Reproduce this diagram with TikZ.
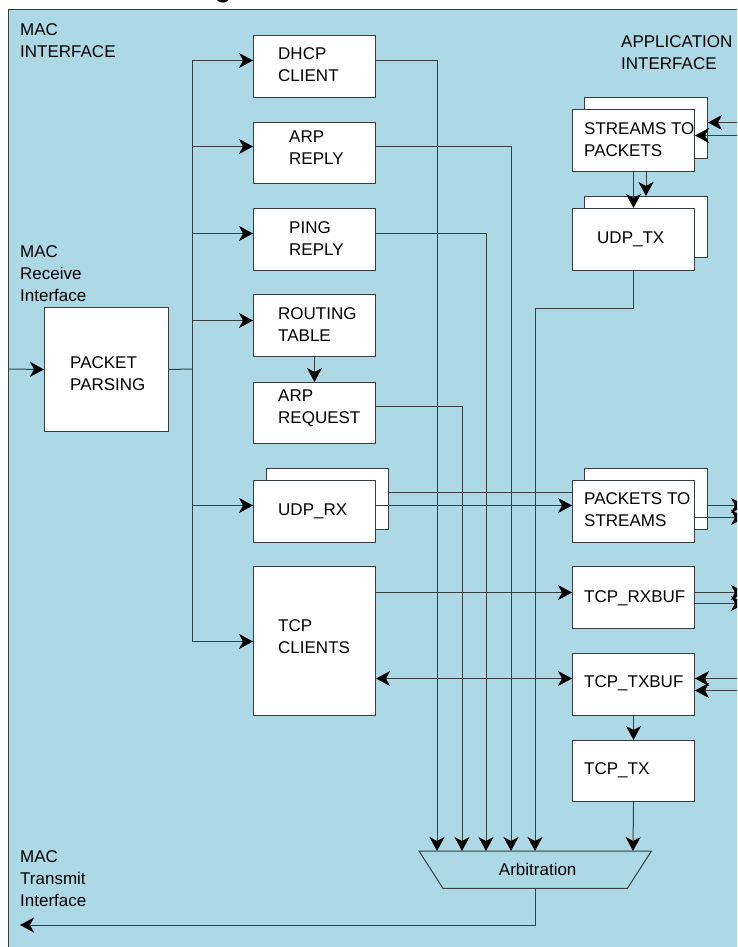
\documentclass[tikz,border=0pt]{standalone}
\usepackage{fontspec}
\setmainfont{Liberation Sans}
\usetikzlibrary{arrows.meta,calc}
\definecolor{bgblue}{RGB}{173,216,230}
\definecolor{lncol}{RGB}{55,63,68}
\begin{document}
\begin{tikzpicture}[x=1pt,y=-1pt,
  font=\fontsize{17}{22}\selectfont,
  blk/.style={draw=lncol, line width=1pt, fill=white, inner sep=0pt, anchor=north west, minimum width=122pt, minimum height=62pt},
  lbl/.style={inner sep=0pt, align=left, anchor=west},
  txt/.style={inner sep=0pt, align=left, anchor=north west},
  wire/.style={draw=lncol, line width=1pt},
  arr/.style={wire, -{Stealth[length=14pt, width=15pt, inset=4pt, color=black]}},
  darr/.style={wire, {Stealth[length=14pt, width=15pt, inset=4pt, color=black]}-{Stealth[length=14pt, width=15pt, inset=4pt, color=black]}}]
\useasboundingbox (0,0) rectangle (737,947);
\clip (0,0) rectangle (737,947);
% cropped title fragment
\node[font=\bfseries\fontsize{26}{26}\selectfont, inner sep=0pt, anchor=base] (title) at (223,-2) {g};
% background panel
\draw[draw=lncol, line width=1pt, fill=bgblue] (8,10) rectangle (770,980);
% boxes
\node[blk] (dhcp) at (253,35) {};
\node[blk, minimum height=61pt] (arpr) at (253,122) {};
\node[blk] (ping) at (253,208) {};
\node[blk] (rt) at (253,294) {};
\node[blk, minimum height=61pt] (arpq) at (253,382) {};
\node[blk, minimum height=61pt] (udprxb) at (266,468) {};
\node[blk] (udprx) at (253,480) {};
\node[blk, minimum height=149pt] (tcpc) at (253,566) {};
\node[blk, minimum width=124pt, minimum height=124pt] (pp) at (44,307) {};
\node[blk, minimum width=123pt, minimum height=61pt] (s2pb) at (584,97) {};
\node[blk] (s2p) at (572,109) {};
\node[blk, minimum width=123pt, minimum height=61pt] (udptxb) at (584,196) {};
\node[blk] (udptx) at (572,208) {};
\node[blk, minimum width=123pt, minimum height=61pt] (p2sb) at (584,468) {};
\node[blk] (p2s) at (572,480) {};
\node[blk] (rxbuf) at (572,566) {};
\node[blk] (txbuf) at (572,653) {};
\node[blk, minimum height=61pt] (tcptx) at (572,740) {};
% arbitration
\node[inner sep=0pt, minimum width=232pt, minimum height=37pt, anchor=north west] (arb) at (419,851) {\hspace*{5pt}Arbitration};
\draw[wire] (arb.north west) -- (arb.north east) -- ($(arb.south east)+(-24,0)$) -- ($(arb.south west)+(24,0)$) -- cycle;
% box texts
\node[lbl] (tdhcp) at (278,65) {DHCP\\CLIENT};
\node[lbl] (tarpr) at (289,147.5) {ARP\\REPLY};
\node[lbl] (tping) at (289,238.5) {PING\\REPLY};
\node[lbl] (trt) at (278,324.5) {ROUTING\\TABLE};
\node[lbl] (tarpq) at (278,408) {ARP\\REQUEST};
\node[lbl] (tudprx) at (278,511) {UDP\_RX};
\node[lbl] (ttcpc) at (278,637) {TCP\\CLIENTS};
\node[lbl] (tpp) at (70,374) {PACKET\\PARSING};
\node[lbl] (ts2p) at (584,140) {STREAMS TO\\PACKETS};
\node[lbl] (tudptx) at (597,239) {UDP\_TX};
\node[lbl] (tp2s) at (584,510) {PACKETS TO\\STREAMS};
\node[lbl] (trxbuf) at (584,598) {TCP\_RXBUF};
\node[lbl] (ttxbuf) at (584,683) {TCP\_TXBUF};
\node[lbl] (ttcptx) at (584,770) {TCP\_TX};
% side labels
\node[txt] (lmacif) at (20,23) {MAC\\INTERFACE};
\node[txt] (lapp) at (621,35) {APPLICATION\\INTERFACE};
\node[txt] (lrx) at (20,245) {MAC\\Receive\\Interface};
\node[txt] (ltx) at (20,850) {MAC\\Transmit\\Interface};
% receive path
\coordinate (macin) at (8,369);
\draw[arr] (macin) -- (pp.west);
\coordinate (bus) at (192,369);
\draw[wire] (pp.east) -- (bus);
\foreach \n/\dy in {dhcp/-6, arpr/-6.5, ping/-6, rt/-5, udprx/-6, tcpc/0.5} {
  \coordinate (\n-in) at ($(\n.west)+(0,\dy)$);
  \draw[arr] (bus |- \n-in) -- (\n-in);
}
\draw[wire] (bus |- dhcp-in) -- (bus |- tcpc-in);
\draw[arr] (rt.south) -- (arpq.north);
% arbitration inputs
\coordinate (a1) at ($(arb.north west)+(18,0)$);
\coordinate (a2) at ($(arb.north west)+(43,0)$);
\coordinate (a3) at ($(arb.north west)+(67,0)$);
\coordinate (a4) at ($(arb.north west)+(92,0)$);
\coordinate (a5) at ($(arb.north west)+(116,0)$);
\coordinate (a6) at ($(arb.north west)+(214,0)$);
\draw[arr] ($(dhcp.east)+(0,-6)$) -| (a1);
\draw[arr] ($(arpq.east)+(0,-6.5)$) -| (a2);
\draw[arr] ($(ping.east)+(0,-6)$) -| (a3);
\draw[arr] ($(arpr.east)+(0,-6.5)$) -| (a4);
\draw[arr] (udptx.south) -- ++(0,37) -| (a5);
\draw[arr] (tcptx.south) -- (a6);
\coordinate (macout) at (20,925);
\draw[arr] (arb.south) |- (macout);
% application side
\coordinate (edge) at (745,0);
\coordinate (ain1) at ($(s2pb.east)+(0,-5.5)$);
\coordinate (ain2) at ($(s2p.east)+(0,-5)$);
\draw[arr] (ain1 -| edge) -- (ain1);
\draw[arr] (ain2 -| edge) -- (ain2);
\draw[arr] (s2p.south) -- (udptx.north);
\draw[arr] (s2p.south -| udptxb.north) -- (udptxb.north);
\coordinate (u1) at ($(udprxb.east)+(0,-6.5)$);
\draw[wire] (u1) -- (u1 -| p2s.west);
\coordinate (u2) at ($(udprx.east)+(0,-6)$);
\draw[arr] (u2) -- (u2 -| p2s.west);
\coordinate (p1) at ($(p2sb.east)+(0,6.5)$);
\coordinate (p2) at ($(p2s.east)+(0,6)$);
\draw[arr] (p1) -- (p1 -| edge);
\draw[arr] (p2) -- (p2 -| edge);
\coordinate (t1) at ($(rxbuf.west)+(0,-5)$);
\draw[arr] (t1 -| tcpc.east) -- (t1);
\coordinate (r1) at ($(rxbuf.east)+(0,-5)$);
\coordinate (r2) at ($(rxbuf.east)+(0,6)$);
\draw[arr] (r1) -- (r1 -| edge);
\draw[arr] (r2) -- (r2 -| edge);
\coordinate (t2) at ($(txbuf.west)+(0,-6)$);
\draw[darr] (t2 -| tcpc.east) -- (t2);
\coordinate (x1) at ($(txbuf.east)+(0,-6)$);
\coordinate (x2) at ($(txbuf.east)+(0,6)$);
\draw[arr] (x1 -| edge) -- (x1);
\draw[arr] (x2 -| edge) -- (x2);
\draw[arr] (txbuf.south) -- (tcptx.north);
\end{tikzpicture}
\end{document}
